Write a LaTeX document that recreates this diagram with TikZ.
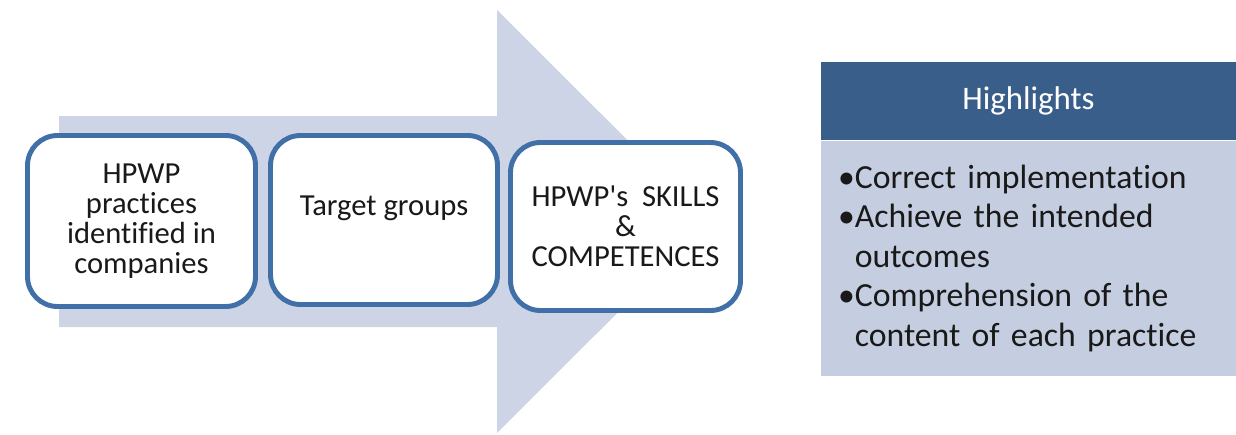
\documentclass[tikz,border=0pt]{standalone}
\usepackage{fontspec}
\setmainfont{Carlito}[Ligatures={TeXOff,NoCommon}]
\usetikzlibrary{positioning}
\definecolor{arrowgrey}{RGB}{205,212,230}
\definecolor{boxblue}{RGB}{65,112,168}
\definecolor{headblue}{RGB}{58,94,138}
\definecolor{panelgrey}{RGB}{197,206,224}
\definecolor{inkgrey}{RGB}{25,25,25}

\begin{document}
\begin{tikzpicture}[
  stage/.style={draw=boxblue,line width=2.8pt,fill=white,rounded corners=0.6cm,
    inner sep=0pt,align=center,text=inkgrey,font={\fontsize{17.4}{17.2}\selectfont\setlength{\lineskiplimit}{-20pt}}},
  header/.style={fill=headblue,minimum width=8.30cm,minimum height=1.56cm,inner sep=0pt,
    text=white,font=\fontsize{18.7}{22}\selectfont},
  panel/.style={fill=panelgrey,minimum width=8.30cm,minimum height=4.70cm,inner xsep=0.34cm,
    text width=7.62cm,align=left,text=inkgrey,font=\fontsize{19.2}{22.5}\selectfont}
]
\useasboundingbox (0,0) rectangle (24.72,8.68);
% big arrow behind the stages
\draw[fill=arrowgrey,draw=none] (1.18,2.14) -- (1.18,6.36) -- (9.94,6.36) -- (9.94,8.48)
  -- (14.18,4.25) -- (9.94,0.02) -- (9.94,2.14) -- cycle;

% stages
\node[stage,minimum width=4.56cm,minimum height=3.42cm] (practices) at (2.83,4.26)
  {HPWP\\practices\\identified in\\companies};
\node[stage,minimum width=4.54cm,minimum height=3.38cm] (groups) at (7.68,4.28) {};
\node[font=\fontsize{17.4}{17.2}\selectfont,text=inkgrey,anchor=base] (groupstext) at (7.68,4.38) {Target groups};
\node[stage,minimum width=4.60cm,minimum height=3.36cm] (skills) at (12.51,4.15)
  {HPWP's\ \ SKILLS\\\&\\COMPETENCES};

% highlights
\node[header] (head) at (20.57,6.66) {Highlights};
\node[panel,below=0pt of head] (panel) {%
  \textbullet Correct implementation\\
  \textbullet Achieve the intended\\
  \hphantom{\textbullet}outcomes\\
  \textbullet Comprehension of the\\
  \hphantom{\textbullet}content of each practice};

\end{tikzpicture}
\end{document}
